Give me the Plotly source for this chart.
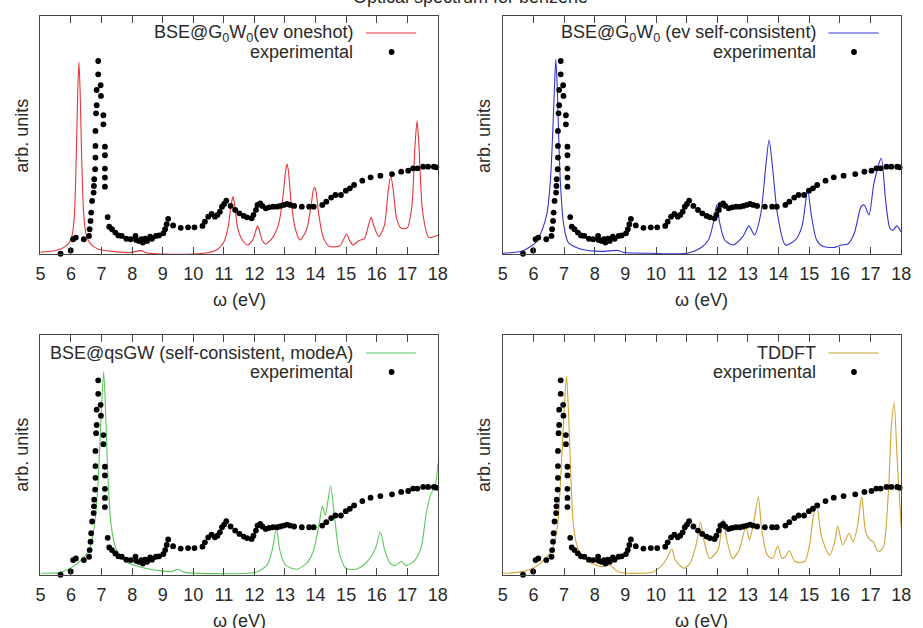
import plotly.graph_objects as go

# ---------------- data ----------------
exp_x = [5.66, 5.99, 6.07, 6.16, 6.42, 6.59, 6.61, 6.64, 6.66, 6.69,
         6.74, 6.75, 6.76, 6.79, 6.80, 6.80, 6.80, 6.82, 6.84, 6.84,
         6.89, 6.89, 6.97, 6.98, 7.06, 7.06, 7.11, 7.11, 7.11, 7.11,
         7.11, 7.20, 7.25, 7.34, 7.45, 7.55, 7.66, 7.81, 7.95, 8.11,
         8.13, 8.22, 8.30, 8.35, 8.43, 8.49, 8.59, 8.65, 8.78, 8.88,
         9.02, 9.08, 9.13, 9.18, 9.34, 9.59, 9.83, 10.04, 10.30, 10.38,
         10.49, 10.60, 10.71, 10.79, 10.87, 10.94, 11.01, 11.08, 11.22, 11.37,
         11.51, 11.65, 11.76, 11.91, 11.97, 12.05, 12.10, 12.19, 12.26, 12.37,
         12.48, 12.61, 12.74, 12.85, 12.96, 13.07, 13.17, 13.30, 13.55, 13.79,
         13.94, 14.22, 14.35, 14.51, 14.65, 14.83, 14.99, 15.12, 15.26, 15.53,
         15.80, 16.12, 16.50, 16.80, 17.03, 17.19, 17.33, 17.52, 17.68, 17.87,
         17.95]
exp_y = [0.001, 0.015, 0.062, 0.069, 0.062, 0.076, 0.104, 0.139, 0.174, 0.223,
         0.258, 0.286, 0.314, 0.356, 0.405, 0.454, 0.517, 0.591, 0.625, 0.689,
         0.755, 0.811, 0.709, 0.664, 0.583, 0.545, 0.451, 0.415, 0.359, 0.321,
         0.283, 0.155, 0.115, 0.104, 0.090, 0.078, 0.076, 0.064, 0.062, 0.076,
         0.059, 0.055, 0.062, 0.048, 0.064, 0.055, 0.073, 0.064, 0.076, 0.078,
         0.087, 0.104, 0.125, 0.148, 0.120, 0.110, 0.112, 0.112, 0.118, 0.136,
         0.157, 0.168, 0.157, 0.164, 0.178, 0.199, 0.210, 0.224, 0.202, 0.185,
         0.171, 0.160, 0.154, 0.150, 0.164, 0.185, 0.206, 0.213, 0.202, 0.192,
         0.196, 0.199, 0.199, 0.202, 0.206, 0.210, 0.206, 0.202, 0.199, 0.199,
         0.199, 0.206, 0.220, 0.237, 0.248, 0.248, 0.266, 0.276, 0.290, 0.308,
         0.322, 0.329, 0.336, 0.346, 0.350, 0.360, 0.360, 0.367, 0.367, 0.367,
         0.364]

oneshot_x = [5.0, 5.5, 5.8, 6.0, 6.1, 6.17, 6.22, 6.26, 6.30, 6.35, 6.42, 6.5, 6.65, 6.9,
             7.3, 7.9, 8.3, 8.5, 9.0, 10.0, 10.5, 10.8, 11.0, 11.15, 11.24, 11.30, 11.36,
             11.45, 11.6, 11.78, 11.95, 12.05, 12.1, 12.16, 12.25, 12.37, 12.6, 12.8, 12.95,
             13.02, 13.07, 13.12, 13.2, 13.35, 13.49, 13.7, 13.85, 13.93, 13.97, 14.02, 14.1,
             14.25, 14.46, 14.8, 14.95, 15.02, 15.1, 15.23, 15.4, 15.5, 15.6, 15.75, 15.82,
             15.9, 16.07, 16.25, 16.38, 16.46, 16.54, 16.65, 16.8, 17.0, 17.15, 17.25, 17.32,
             17.38, 17.5, 17.7, 18.0]
oneshot_y = [0.008, 0.015, 0.03, 0.06, 0.14, 0.40, 0.68, 0.807, 0.68, 0.40, 0.16, 0.08, 0.04, 0.02,
             0.012, 0.006, 0.014, 0.004, 0.0, 0.0, 0.006, 0.02, 0.05, 0.12, 0.21, 0.241, 0.20,
             0.11, 0.06, 0.038, 0.06, 0.10, 0.118, 0.10, 0.06, 0.042, 0.07, 0.13, 0.26,
             0.35, 0.378, 0.34, 0.22, 0.10, 0.059, 0.10, 0.20, 0.27, 0.28, 0.26, 0.17,
             0.07, 0.031, 0.035, 0.07, 0.084, 0.06, 0.038, 0.055, 0.06, 0.065, 0.13, 0.154,
             0.12, 0.073, 0.12, 0.27, 0.328, 0.27, 0.15, 0.108, 0.11, 0.2, 0.45, 0.56,
             0.46, 0.18, 0.07, 0.08]

selfc_x = [5.0, 5.64, 6.07, 6.28, 6.44, 6.55, 6.63, 6.68, 6.73, 6.78, 6.82, 6.88, 6.98, 7.14,
           7.57, 8.21, 8.75, 8.96, 9.82, 11.01, 11.44, 11.71, 11.87, 11.98, 12.08, 12.24,
           12.51, 12.83, 13.03, 13.21, 13.42, 13.58, 13.69, 13.80, 13.96, 14.22, 14.55, 14.76,
           14.89, 14.95, 15.06, 15.24, 15.46, 15.83, 16.04, 16.26, 16.47, 16.69, 16.79, 16.95,
           17.11, 17.35, 17.49, 17.63, 17.73, 17.86, 17.99]
selfc_y = [0.003, 0.013, 0.048, 0.10, 0.17, 0.30, 0.51, 0.68, 0.818, 0.69, 0.51, 0.30, 0.13, 0.048,
           0.02, 0.011, 0.015, 0.006, 0.003, 0.003, 0.024, 0.059, 0.13, 0.206, 0.13, 0.059,
           0.038, 0.073, 0.118, 0.08, 0.17, 0.367, 0.479, 0.367, 0.17, 0.038, 0.059, 0.115,
           0.227, 0.276, 0.17, 0.059, 0.031, 0.028, 0.038, 0.042, 0.087, 0.199, 0.206, 0.164,
           0.297, 0.402, 0.227, 0.108, 0.10, 0.118, 0.094]

qsgw_x = [5.0, 5.64, 6.07, 6.39, 6.61, 6.77, 6.88, 6.98, 7.07, 7.14, 7.22, 7.31, 7.47, 7.79,
          8.43, 9.29, 9.48, 9.72, 11.78, 12.1, 12.42, 12.58, 12.72, 12.83, 13.01, 13.39,
          13.71, 13.92, 14.12, 14.22, 14.32, 14.49, 14.62, 14.78, 14.99, 15.32, 15.64, 15.85,
          15.98, 16.12, 16.26, 16.44, 16.6, 16.8, 16.98, 17.25, 17.46, 17.62, 17.78, 17.91, 18.0]
qsgw_y = [0.007, 0.011, 0.035, 0.07, 0.11, 0.21, 0.375, 0.65, 0.847, 0.65, 0.375, 0.21, 0.11, 0.056,
          0.028, 0.014, 0.024, 0.011, 0.007, 0.014, 0.042, 0.104, 0.194, 0.104, 0.042, 0.024,
          0.049, 0.097, 0.215, 0.287, 0.25, 0.371, 0.243, 0.09, 0.028, 0.024, 0.049, 0.083,
          0.118, 0.18, 0.104, 0.049, 0.039, 0.056, 0.039, 0.062, 0.118, 0.257, 0.34, 0.368, 0.465]

tddft_x = [5.0, 5.65, 6.08, 6.4, 6.62, 6.78, 6.88, 6.99, 7.08, 7.15, 7.23, 7.31, 7.47, 7.79,
           8.22, 8.49, 8.76, 9.4, 9.93, 10.25, 10.41, 10.52, 10.63, 10.9, 11.11, 11.32, 11.45,
           11.56, 11.75, 12.02, 12.13, 12.2, 12.29, 12.5, 12.71, 12.93, 13.05, 13.2, 13.34,
           13.44, 13.63, 13.81, 13.97, 14.11, 14.21, 14.35, 14.53, 14.85, 15.02, 15.15, 15.25,
           15.4, 15.66, 15.82, 15.93, 16.09, 16.3, 16.43, 16.57, 16.71, 16.84, 16.98, 17.08,
           17.26, 17.42, 17.58, 17.68, 17.77, 17.87, 18.0]
tddft_y = [0.007, 0.014, 0.035, 0.069, 0.111, 0.2, 0.38, 0.66, 0.829, 0.66, 0.38, 0.2, 0.104, 0.056,
           0.035, 0.042, 0.014, 0.007, 0.014, 0.049, 0.083, 0.107, 0.0625, 0.028, 0.049, 0.132, 0.222,
           0.146, 0.069, 0.104, 0.1875, 0.232, 0.16, 0.069, 0.104, 0.2, 0.146, 0.23, 0.326,
           0.2, 0.083, 0.069, 0.121, 0.069, 0.076, 0.101, 0.056, 0.056, 0.132, 0.257, 0.282,
           0.16, 0.083, 0.132, 0.204, 0.125, 0.174, 0.139, 0.2, 0.326, 0.18, 0.146, 0.139,
           0.097, 0.118, 0.34, 0.62, 0.718, 0.48, 0.2]

x_ticks = list(range(5, 19))

panels = [
    dict(cx=oneshot_x, cy=oneshot_y, color="#e8343c",
         label="BSE@G<sub>0</sub>W<sub>0</sub>(ev oneshot)"),
    dict(cx=selfc_x, cy=selfc_y, color="#3434d4",
         label="BSE@G<sub>0</sub>W<sub>0</sub> (ev self-consistent)"),
    dict(cx=qsgw_x, cy=qsgw_y, color="#5cc85c",
         label="BSE@qsGW (self-consistent, modeA)"),
    dict(cx=tddft_x, cy=tddft_y, color="#d0a434",
         label="TDDFT"),
]

# ---------------- layout geometry (pixels) ----------------
W, H = 923, 628
boxes = [(36, 440, 16, 254), (506, 911, 16, 254),
         (36, 440, 335, 575), (506, 911, 335, 575)]

FONT = "Liberation Sans, Arial, sans-serif"
TXT = "#2a2a2a"
FRAME = "#444444"
FS = 18

fig = go.Figure()
layout = dict(width=W, height=H, margin=dict(l=0, r=0, t=0, b=0),
              paper_bgcolor="white", plot_bgcolor="white", showlegend=False,
              font=dict(family=FONT, size=FS, color=TXT))
annotations = []
shapes = []

def px(x):
    return x / W

def py(y):
    return 1 - y / H

for i, (p, (x0, x1, y0, y1)) in enumerate(zip(panels, boxes)):
    n = "" if i == 0 else str(i + 1)
    xa, ya = "x" + n, "y" + n
    fig.add_trace(go.Scatter(x=p["cx"], y=p["cy"], mode="lines",
                             line=dict(color=p["color"], width=1.1, shape="spline", smoothing=0.7),
                             xaxis=xa, yaxis=ya, hoverinfo="skip"))
    fig.add_trace(go.Scatter(x=exp_x, y=exp_y, mode="markers",
                             marker=dict(color="black", size=5.8), cliponaxis=False,
                             xaxis=xa, yaxis=ya, hoverinfo="skip"))
    layout["xaxis" + n] = dict(domain=[px(x0), px(x1)], anchor=ya, range=[5, 18],
                               tickvals=x_ticks, ticktext=[str(t) for t in x_ticks],
                               ticks="inside", ticklen=7, tickcolor=FRAME, tickwidth=1,
                               showline=True, linecolor=FRAME, linewidth=1, mirror="ticks",
                               showgrid=False, zeroline=False,
                               tickfont=dict(family=FONT, size=FS, color=TXT),
                               ticklabelstandoff=3)
    layout["yaxis" + n] = dict(domain=[py(y1), py(y0)], anchor=xa, range=[0, 1],
                               showticklabels=False, ticks="", showline=True,
                               linecolor=FRAME, linewidth=1, mirror=True,
                               showgrid=False, zeroline=False)
    # axis labels
    annotations.append(dict(xref="paper", yref="paper", x=px((x0 + x1) / 2), y=py(y1 + 46),
                            text="\u03c9 (eV)", showarrow=False, xanchor="center", yanchor="middle",
                            font=dict(family=FONT, size=FS, color=TXT)))
    annotations.append(dict(xref="paper", yref="paper", x=px(x0 - 19), y=py(y0 + 120),
                            text="arb. units", showarrow=False, textangle=-90,
                            xanchor="center", yanchor="middle",
                            font=dict(family=FONT, size=FS, color=TXT)))
    # key
    tx = x0 + 320
    ky1 = y0 + 17 if i < 2 else y0 + 18
    ky2 = ky1 + 19
    annotations.append(dict(xref="paper", yref="paper", x=px(tx), y=py(ky1), text=p["label"],
                            showarrow=False, xanchor="right", yanchor="middle",
                            font=dict(family=FONT, size=FS, color=TXT)))
    annotations.append(dict(xref="paper", yref="paper", x=px(tx), y=py(ky2), text="experimental",
                            showarrow=False, xanchor="right", yanchor="middle",
                            font=dict(family=FONT, size=FS, color=TXT)))
    shapes.append(dict(type="line", xref="paper", yref="paper",
                       x0=px(tx + 11), x1=px(tx + 62), y0=py(ky1), y1=py(ky1),
                       line=dict(color=p["color"], width=1.1)))
    shapes.append(dict(type="circle", xref="paper", yref="paper",
                       xsizemode="pixel", ysizemode="pixel",
                       xanchor=px(tx + 37), yanchor=py(ky2),
                       x0=-2.9, x1=2.9, y0=-2.9, y1=2.9,
                       fillcolor="black", line=dict(color="black", width=0)))

# title, cut off at the top edge as in the reference
annotations.append(dict(xref="paper", yref="paper", x=473 / W, y=py(-3),
                        text="Optical spectrum for benzene", showarrow=False,
                        xanchor="center", yanchor="middle",
                        font=dict(family=FONT, size=FS, color=TXT)))

layout["annotations"] = annotations
layout["shapes"] = shapes
fig.update_layout(**layout)
fig.write_html("out.html", config={"displayModeBar": False, "staticPlot": True},
               post_script="document.body.style.margin='0';document.body.style.overflow='hidden';")
